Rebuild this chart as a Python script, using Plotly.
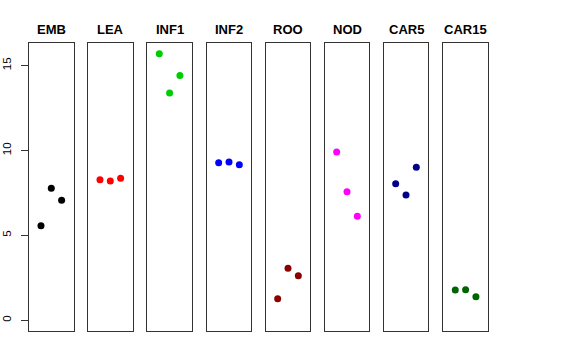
import plotly.graph_objects as go

categories = ["EMB", "LEA", "INF1", "INF2", "ROO", "NOD", "CAR5", "CAR15"]
x_positions = [1, 2, 3]
values = {
    "EMB": [5.57, 7.77, 7.07],
    "LEA": [8.28, 8.20, 8.36],
    "INF1": [15.70, 13.39, 14.41],
    "INF2": [9.28, 9.32, 9.16],
    "ROO": [1.27, 3.06, 2.63],
    "NOD": [9.91, 7.57, 6.12],
    "CAR5": [8.04, 7.38, 9.01],
    "CAR15": [1.78, 1.80, 1.39],
}
colors = ["#000000", "#FF0000", "#00CD00", "#0000FF", "#8B0000", "#FF00FF", "#00008B", "#006400"]
y_ticks = [0, 5, 10, 15]

W, H = 576, 360
lefts = [29, 88, 147.3, 206.7, 265.7, 324.7, 383.7, 443.3]
pw = 44.6
y0 = 1 - 331 / H
y1 = 1 - 43.3 / H

fig = go.Figure()
layout = dict(
    width=W, height=H, margin=dict(l=0, r=0, t=0, b=0, pad=0, autoexpand=False),
    paper_bgcolor="white", plot_bgcolor="white", showlegend=False,
    font=dict(family="Liberation Sans, Arial, sans-serif", color="black"),
)
annotations = []
for i, cat in enumerate(categories):
    n = "" if i == 0 else str(i + 1)
    fig.add_trace(go.Scatter(
        x=x_positions, y=values[cat], mode="markers",
        marker=dict(color=colors[i], size=7),
        xaxis="x" + n, yaxis="y" + n, cliponaxis=False,
    ))
    d0 = lefts[i] / W
    d1 = (lefts[i] + pw) / W
    layout["xaxis" + n] = dict(
        domain=[d0, d1], range=[-0.16, 4.16], showgrid=False, zeroline=False,
        showticklabels=False, ticks="", showline=True, mirror=True,
        linecolor="#333", linewidth=1, anchor="y" + n, fixedrange=True,
        automargin=False,
    )
    yax = dict(
        domain=[y0, y1], range=[-0.63, 16.31], showgrid=False, zeroline=False,
        showline=True, mirror=True, linecolor="#333", linewidth=1,
        anchor="x" + n, fixedrange=True, automargin=False,
    )
    if i == 0:
        yax.update(tickvals=y_ticks, ticks="outside", ticklen=7, tickcolor="#333",
                   tickangle=-90, tickfont=dict(size=11.5), ticklabelstandoff=5)
    else:
        yax.update(showticklabels=False, ticks="")
    layout["yaxis" + n] = yax
    annotations.append(dict(
        text="<b>" + cat + "</b>", x=(d0 + d1) / 2, y=1 - 29.5 / H,
        xref="paper", yref="paper", showarrow=False,
        xanchor="center", yanchor="middle", font=dict(size=13),
    ))
layout["annotations"] = annotations
fig.update_layout(**layout)
fig.write_html("out.html", config={"displayModeBar": False},
               post_script="document.body.style.margin='0';")
